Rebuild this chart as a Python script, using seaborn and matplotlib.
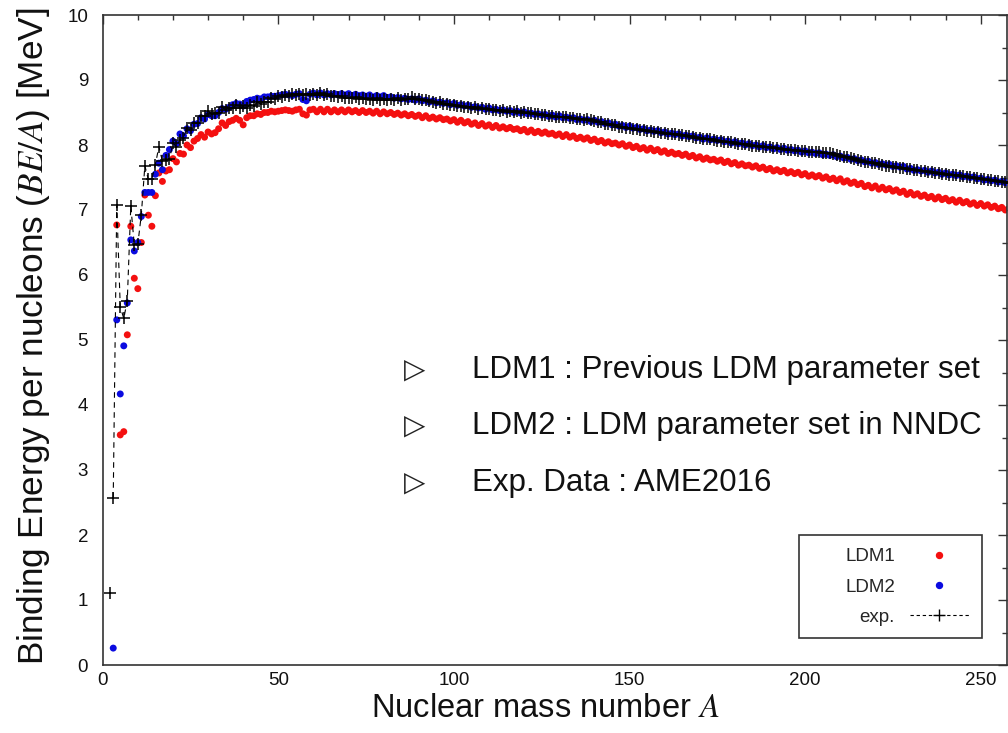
import matplotlib
matplotlib.use("Agg")
import matplotlib.pyplot as plt
import pandas as pd
import seaborn as sns
from matplotlib import font_manager
from matplotlib.font_manager import FontProperties
from matplotlib.lines import Line2D
from matplotlib.patches import Rectangle
from matplotlib.ticker import MultipleLocator

# ---------------------------------------------------------------------------
# Binding energy per nucleon (MeV) versus mass number A
# ---------------------------------------------------------------------------
A_EXP_START, A_LDM2_START, A_LDM1_START, A_END = 2, 3, 4, 260

# AME2016 experimental values, A = 2 ... 260
be_exp = [
    1.112, 2.573, 7.074, 5.512, 5.332, 5.606, 7.062, 6.463,
    6.475, 6.928, 7.680, 7.470, 7.476, 7.699, 7.976, 7.751, 7.767, 7.779,
    8.032, 7.972, 8.081, 8.112, 8.261, 8.224, 8.334, 8.332, 8.448, 8.449,
    8.521, 8.481, 8.493, 8.498, 8.584, 8.538, 8.576, 8.570, 8.614, 8.563,
    8.595, 8.576, 8.617, 8.601, 8.658, 8.631, 8.669, 8.661, 8.723, 8.711,
    8.756, 8.742, 8.776, 8.760, 8.778, 8.765, 8.790, 8.770, 8.792, 8.768,
    8.781, 8.765, 8.795, 8.763, 8.777, 8.757, 8.760, 8.735, 8.756, 8.724,
    8.730, 8.718, 8.732, 8.705, 8.725, 8.701, 8.711, 8.695, 8.718, 8.696,
    8.711, 8.696, 8.711, 8.696, 8.717, 8.699, 8.712, 8.705, 8.733, 8.714,
    8.710, 8.693, 8.693, 8.671, 8.667, 8.649, 8.654, 8.635, 8.635, 8.614,
    8.619, 8.601, 8.607, 8.584, 8.587, 8.571, 8.580, 8.561, 8.567, 8.548,
    8.551, 8.537, 8.545, 8.527, 8.532, 8.514, 8.523, 8.510, 8.517, 8.499,
    8.505, 8.485, 8.488, 8.472, 8.474, 8.458, 8.463, 8.446, 8.449, 8.431,
    8.438, 8.424, 8.428, 8.410, 8.414, 8.398, 8.406, 8.392, 8.394, 8.378,
    8.376, 8.355, 8.347, 8.330, 8.327, 8.309, 8.304, 8.284, 8.283, 8.263,
    8.262, 8.244, 8.244, 8.229, 8.227, 8.213, 8.215, 8.204, 8.202, 8.189,
    8.184, 8.173, 8.174, 8.162, 8.161, 8.147, 8.142, 8.132, 8.130, 8.115,
    8.112, 8.098, 8.097, 8.087, 8.084, 8.069, 8.064, 8.052, 8.049, 8.039,
    8.035, 8.023, 8.018, 8.008, 8.005, 7.991, 7.989, 7.978, 7.974, 7.963,
    7.962, 7.948, 7.948, 7.938, 7.936, 7.927, 7.927, 7.916, 7.914, 7.905,
    7.906, 7.897, 7.897, 7.887, 7.886, 7.878, 7.875, 7.870, 7.867, 7.848,
    7.835, 7.820, 7.810, 7.795, 7.785, 7.770, 7.760, 7.745, 7.737, 7.723,
    7.717, 7.703, 7.695, 7.682, 7.673, 7.655, 7.662, 7.650, 7.645, 7.633,
    7.631, 7.618, 7.615, 7.604, 7.600, 7.591, 7.586, 7.576, 7.570, 7.560,
    7.556, 7.546, 7.541, 7.531, 7.525, 7.516, 7.511, 7.501, 7.497, 7.486,
    7.480, 7.470, 7.465, 7.456, 7.450, 7.440, 7.435, 7.425, 7.419, 7.409,
    7.404,
]
# The deuteron point is plotted on its own, the dashed line starts at A = 3
exp_segment_break = 3

# LDM2 (NNDC parameter set), A = 3 ... 260
be_ldm2 = [
    0.26, 5.31, 4.17, 4.91, 5.57, 6.54, 6.37,
    6.50, 6.90, 7.27, 7.27, 7.27, 7.55, 7.72, 7.62, 7.84, 7.93,
    8.06, 8.02, 8.17, 8.14, 8.25, 8.22, 8.32, 8.33, 8.42, 8.40,
    8.47, 8.45, 8.45, 8.50, 8.56, 8.55, 8.58, 8.62, 8.64, 8.63,
    8.60, 8.67, 8.69, 8.70, 8.72, 8.71, 8.74, 8.74, 8.75, 8.75,
    8.76, 8.77, 8.78, 8.77, 8.76, 8.78, 8.79, 8.70, 8.68, 8.78,
    8.80, 8.77, 8.80, 8.77, 8.79, 8.77, 8.79, 8.77, 8.79, 8.77,
    8.79, 8.76, 8.78, 8.76, 8.77, 8.75, 8.77, 8.74, 8.76, 8.74,
    8.76, 8.73, 8.74, 8.72, 8.73, 8.71, 8.72, 8.70, 8.71, 8.69,
    8.71, 8.68, 8.69, 8.66, 8.68, 8.65, 8.66, 8.64, 8.65, 8.62,
    8.64, 8.61, 8.62, 8.60, 8.61, 8.58, 8.59, 8.57, 8.58, 8.55,
    8.57, 8.54, 8.55, 8.53, 8.54, 8.52, 8.53, 8.50, 8.52, 8.49,
    8.51, 8.48, 8.49, 8.47, 8.48, 8.46, 8.47, 8.44, 8.46, 8.43,
    8.45, 8.42, 8.43, 8.41, 8.42, 8.39, 8.40, 8.38, 8.39, 8.36,
    8.38, 8.35, 8.36, 8.33, 8.34, 8.31, 8.32, 8.29, 8.30, 8.27,
    8.29, 8.26, 8.27, 8.24, 8.25, 8.22, 8.23, 8.21, 8.22, 8.19,
    8.20, 8.17, 8.18, 8.16, 8.17, 8.14, 8.15, 8.13, 8.14, 8.11,
    8.12, 8.09, 8.11, 8.08, 8.09, 8.07, 8.08, 8.05, 8.06, 8.03,
    8.05, 8.02, 8.03, 8.00, 8.02, 7.99, 8.00, 7.97, 7.99, 7.96,
    7.97, 7.94, 7.96, 7.93, 7.95, 7.92, 7.93, 7.91, 7.92, 7.89,
    7.91, 7.88, 7.89, 7.87, 7.88, 7.85, 7.86, 7.84, 7.85, 7.82,
    7.83, 7.80, 7.81, 7.78, 7.79, 7.76, 7.77, 7.74, 7.75, 7.72,
    7.73, 7.70, 7.71, 7.69, 7.70, 7.67, 7.68, 7.66, 7.67, 7.63,
    7.64, 7.61, 7.62, 7.60, 7.61, 7.58, 7.60, 7.57, 7.58, 7.55,
    7.57, 7.54, 7.55, 7.53, 7.54, 7.51, 7.52, 7.50, 7.51, 7.48,
    7.49, 7.46, 7.47, 7.45, 7.46, 7.43, 7.44, 7.42, 7.43, 7.40,
    7.42,
]

# LDM1 (previous parameter set), A = 4 ... 260
be_ldm1 = [
    6.77, 3.54, 3.59, 5.08, 6.75, 5.95,
    5.79, 6.50, 7.23, 6.92, 6.75, 7.22, 7.57, 7.44, 7.60, 7.62,
    7.79, 7.74, 7.87, 7.86, 8.00, 7.96, 8.06, 8.10, 8.16, 8.12,
    8.20, 8.17, 8.19, 8.25, 8.34, 8.30, 8.36, 8.38, 8.41, 8.38,
    8.31, 8.42, 8.45, 8.45, 8.48, 8.47, 8.50, 8.50, 8.52, 8.51,
    8.52, 8.53, 8.54, 8.53, 8.52, 8.54, 8.55, 8.48, 8.46, 8.54,
    8.55, 8.51, 8.55, 8.51, 8.55, 8.51, 8.54, 8.51, 8.54, 8.51,
    8.54, 8.51, 8.53, 8.50, 8.53, 8.50, 8.52, 8.49, 8.52, 8.48,
    8.51, 8.48, 8.50, 8.47, 8.49, 8.46, 8.48, 8.45, 8.47, 8.44,
    8.46, 8.42, 8.45, 8.41, 8.43, 8.40, 8.42, 8.39, 8.40, 8.37,
    8.39, 8.35, 8.38, 8.34, 8.36, 8.32, 8.34, 8.30, 8.33, 8.29,
    8.31, 8.27, 8.30, 8.26, 8.28, 8.25, 8.27, 8.24, 8.25, 8.22,
    8.24, 8.20, 8.23, 8.19, 8.21, 8.18, 8.20, 8.17, 8.18, 8.15,
    8.17, 8.13, 8.16, 8.12, 8.14, 8.10, 8.12, 8.09, 8.11, 8.07,
    8.09, 8.05, 8.07, 8.03, 8.05, 8.02, 8.03, 8.00, 8.02, 7.98,
    8.00, 7.96, 7.98, 7.94, 7.96, 7.92, 7.95, 7.91, 7.93, 7.89,
    7.91, 7.87, 7.89, 7.86, 7.87, 7.84, 7.86, 7.82, 7.84, 7.80,
    7.82, 7.78, 7.80, 7.77, 7.78, 7.75, 7.77, 7.73, 7.75, 7.71,
    7.73, 7.69, 7.71, 7.68, 7.69, 7.66, 7.68, 7.64, 7.66, 7.62,
    7.64, 7.60, 7.62, 7.59, 7.61, 7.57, 7.59, 7.56, 7.58, 7.54,
    7.56, 7.52, 7.54, 7.51, 7.53, 7.49, 7.51, 7.47, 7.49, 7.45,
    7.48, 7.43, 7.45, 7.41, 7.43, 7.39, 7.41, 7.36, 7.38, 7.34,
    7.37, 7.32, 7.35, 7.31, 7.33, 7.29, 7.31, 7.27, 7.29, 7.24,
    7.27, 7.23, 7.25, 7.21, 7.23, 7.19, 7.21, 7.17, 7.20, 7.16,
    7.18, 7.14, 7.16, 7.12, 7.15, 7.11, 7.13, 7.09, 7.11, 7.07,
    7.10, 7.06, 7.08, 7.04, 7.06, 7.02, 7.04, 7.00, 7.02, 6.99,
    7.01,
]

legend_labels = ["LDM1", "LDM2", "exp."]
notes = [
    "LDM1 : Previous LDM parameter set",
    "LDM2 : LDM parameter set in NNDC",
    "Exp. Data : AME2016",
]
x_ticks_major = [0, 50, 100, 150, 200, 250]
y_ticks_major = list(range(0, 11))

exp_df = pd.DataFrame({"A": range(A_EXP_START, A_END + 1), "BE": be_exp})
exp_df["segment"] = (exp_df["A"] >= exp_segment_break).astype(int)
ldm2_df = pd.DataFrame({"A": range(A_LDM2_START, A_END + 1), "BE": be_ldm2})
ldm1_df = pd.DataFrame({"A": range(A_LDM1_START, A_END + 1), "BE": be_ldm1})

# ---------------------------------------------------------------------------
sns.set_style("white")
plt.rcParams["font.family"] = ["Liberation Sans", "DejaVu Sans"]
plt.rcParams["mathtext.fontset"] = "stix"


def tick_family():
    for name in ["Liberation Sans Narrow", "Liberation Sans"]:
        try:
            font_manager.findfont(FontProperties(family=name), fallback_to_default=False)
            return name
        except ValueError:
            continue
    return "DejaVu Sans"


TICK_FONT = tick_family()
RED = "#f41010"
BLUE = "#0b0be0"
SPINE = "#333333"

W, H = 1008, 733
fig = plt.figure(figsize=(W / 100, H / 100), dpi=100)
ax_left, ax_right, ax_top, ax_bottom = 102.7, 1007.0, 15.0, 665.0
ax = fig.add_axes([ax_left / W, 1 - ax_bottom / H,
                   (ax_right - ax_left) / W, (ax_bottom - ax_top) / H])


def axfrac(px, py):
    """Pixel position in the figure -> axes fraction."""
    return ((px - ax_left) / (ax_right - ax_left),
            (ax_bottom - py) / (ax_bottom - ax_top))


sns.scatterplot(data=ldm1_df, x="A", y="BE", color=RED, s=25,
                edgecolor="none", linewidth=0, ax=ax, legend=False, zorder=2)
sns.scatterplot(data=ldm2_df, x="A", y="BE", color=BLUE, s=25,
                edgecolor="none", linewidth=0, ax=ax, legend=False, zorder=3)
sns.lineplot(data=exp_df, x="A", y="BE", units="segment", estimator=None,
             sort=False, color="black", linewidth=0.8, linestyle=(0, (5, 4)),
             marker="+", markersize=8.5, markeredgewidth=1.1,
             markeredgecolor="black", ax=ax, legend=False, zorder=4)

ax.set_xlim(0, (ax_right - ax_left) / 3.512)
ax.set_ylim(0, 10)
ax.xaxis.set_major_locator(MultipleLocator(50))
ax.xaxis.set_minor_locator(MultipleLocator(10))
ax.yaxis.set_major_locator(MultipleLocator(1))
ax.yaxis.set_minor_locator(MultipleLocator(0.5))
ax.set_xticks(x_ticks_major)
ax.set_xticklabels([str(v) for v in x_ticks_major])
ax.set_yticks(y_ticks_major)
ax.set_yticklabels([str(v) for v in y_ticks_major])

ax.tick_params(which="both", direction="in", top=True, right=True,
               color=SPINE, width=1.0)
ax.tick_params(which="major", length=6.5)
ax.tick_params(which="minor", length=3.5)
ax.tick_params(axis="x", which="major", pad=5, labelsize=13.5, labelcolor="#111111")
ax.tick_params(axis="y", which="major", pad=10.5, labelsize=13.5, labelcolor="#111111")
for lab in ax.get_xticklabels() + ax.get_yticklabels():
    lab.set_family(TICK_FONT)

for sp in ax.spines.values():
    sp.set_color(SPINE)
    sp.set_linewidth(1.2)

ax.set_xlabel("Nuclear mass number $A$", fontsize=23.5, color="#111111")
ax.set_ylabel("Binding Energy per nucleons ($BE/A$) [MeV]", fontsize=25.3,
              color="#111111")
ax.xaxis.set_label_coords(*axfrac(545, 693))
ax.yaxis.set_label_coords(*axfrac(52, 336))

# Annotation block
note_y = [370, 426, 483]
for py, txt in zip(note_y, notes):
    tx, ty = axfrac(415, py)
    ax.text(tx, ty, "\u25B7", transform=ax.transAxes, fontsize=20,
            family="DejaVu Sans", ha="center", va="center", color="#222222")
    nx, _ = axfrac(472, py)
    ax.text(nx, ty, txt, transform=ax.transAxes, fontsize=22.5,
            ha="left", va="center", color="#111111")

# Legend box
bx0, by0 = axfrac(799, 638)
bx1, by1 = axfrac(982, 535)
ax.add_patch(Rectangle((bx0, by0), bx1 - bx0, by1 - by0, transform=ax.transAxes,
                       facecolor="white", edgecolor=SPINE, linewidth=1.2,
                       zorder=5))
handles = [
    Line2D([], [], marker="o", linestyle="none", color=RED, markersize=4.3),
    Line2D([], [], marker="o", linestyle="none", color=BLUE, markersize=4.3),
    Line2D([], [], color="black", linewidth=0.8, linestyle=(0, (3, 2.5)),
           marker="+", markersize=8, markeredgewidth=1.0),
]
lx, ly = axfrac(969, 587)
leg = ax.legend(handles, legend_labels, loc="center right",
                bbox_to_anchor=(lx, ly), frameon=False, markerfirst=False,
                handlelength=3.15, handletextpad=0.8, labelspacing=0.7,
                borderpad=0, borderaxespad=0, fontsize=13.5, numpoints=1)
leg.set_zorder(6)

fig.savefig("out.png", dpi=100)
